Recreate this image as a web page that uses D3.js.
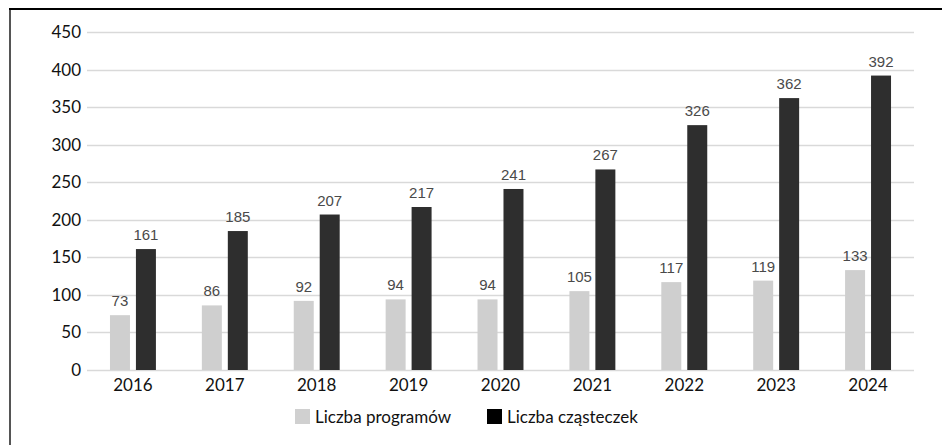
<!DOCTYPE html>
<html>
<head>
<meta charset="utf-8">
<script src="https://cdn.jsdelivr.net/npm/d3@7"></script>
<style>
  body { margin: 0; background: #fff; }
  .tick-text { font-family: Lato, "Open Sans", sans-serif; font-size: 17px; fill: #111; }
  .value-text { font-family: "Liberation Sans", Arial, sans-serif; font-size: 15px; fill: #4a4a4a; }
  .legend-text { font-family: Lato, "Open Sans", sans-serif; font-size: 17px; fill: #111; }
</style>
</head>
<body>
<svg id="chart" width="942" height="445"></svg>
<script>
// DATA
var years = ['2016', '2017', '2018', '2019', '2020', '2021', '2022', '2023', '2024'];
var programs = [73, 86, 92, 94, 94, 105, 117, 119, 133];
var particles = [161, 185, 207, 217, 241, 267, 326, 362, 392];
var seriesNames = ['Liczba programów', 'Liczba cząsteczek'];
var yTicks = [0, 50, 100, 150, 200, 250, 300, 350, 400, 450];

var barCols = ['#cfcfcf', '#2e2e2e'];
var legendCols = ['#d0d0d0', '#000000'];

var svg = d3.select('#chart');

// frame (left + top only)
svg.append('line').attr('x1', 10).attr('x2', 10).attr('y1', 9).attr('y2', 445)
  .attr('stroke', '#555').attr('stroke-width', 2);
svg.append('line').attr('x1', 9).attr('x2', 942).attr('y1', 9).attr('y2', 9)
  .attr('stroke', '#000').attr('stroke-width', 2);

var x0 = d3.scaleBand().domain(years).range([87, 914]).paddingInner(0.5).paddingOuter(0.25);
var x1 = d3.scaleBand().domain([0, 1]).range([0, x0.bandwidth()]).paddingInner(0.23);
var y = d3.scaleLinear().domain([0, 450]).range([370, 32]);

// gridlines
svg.append('g').selectAll('line')
  .data(yTicks)
  .enter().append('line')
  .attr('x1', 87).attr('x2', 914)
  .attr('y1', function(d) { return Math.round(y(d)) + 0.5; })
  .attr('y2', function(d) { return Math.round(y(d)) + 0.5; })
  .attr('stroke', '#d9d9d9').attr('stroke-width', 1.5);

// y labels
svg.append('g').selectAll('text')
  .data(yTicks)
  .enter().append('text')
  .attr('class', 'tick-text')
  .attr('x', 81)
  .attr('y', function(d) { return y(d); })
  .attr('dy', '0.35em')
  .style('text-anchor', 'end')
  .text(function(d) { return d; });

// x labels
svg.append('g').selectAll('text')
  .data(years)
  .enter().append('text')
  .attr('class', 'tick-text')
  .attr('x', function(d) { return x0(d) + x0.bandwidth() / 2; })
  .attr('y', 391)
  .style('text-anchor', 'middle')
  .text(function(d) { return d; });

// bars
var rows = years.map(function(yr, i) { return { year: yr, vals: [programs[i], particles[i]] }; });

var groups = svg.append('g').selectAll('g')
  .data(rows)
  .enter().append('g')
  .attr('transform', function(d) { return 'translate(' + x0(d.year) + ',0)'; });

groups.selectAll('rect')
  .data(function(d) { return d.vals; })
  .enter().append('rect')
  .attr('x', function(d, i) { return x1(i); })
  .attr('width', x1.bandwidth())
  .attr('y', function(d) { return y(d); })
  .attr('height', function(d) { return y(0) - y(d); })
  .style('fill', function(d, i) { return barCols[i]; });

groups.selectAll('text')
  .data(function(d) { return d.vals; })
  .enter().append('text')
  .attr('class', 'value-text')
  .attr('x', function(d, i) { return x1(i) + x1.bandwidth() / 2; })
  .attr('y', function(d) { return y(d) - 9; })
  .style('text-anchor', 'middle')
  .text(function(d) { return d; });

// legend
var legendX = [295, 487];
var legend = svg.append('g').selectAll('.legend')
  .data(seriesNames)
  .enter().append('g')
  .attr('class', 'legend')
  .attr('transform', function(d, i) { return 'translate(' + legendX[i] + ',409)'; });

legend.append('rect')
  .attr('width', 15).attr('height', 15)
  .style('fill', function(d, i) { return legendCols[i]; });

legend.append('text')
  .attr('class', 'legend-text')
  .attr('x', 20)
  .attr('y', 8)
  .attr('dy', '0.35em')
  .text(function(d) { return d; });
</script>
</body>
</html>
